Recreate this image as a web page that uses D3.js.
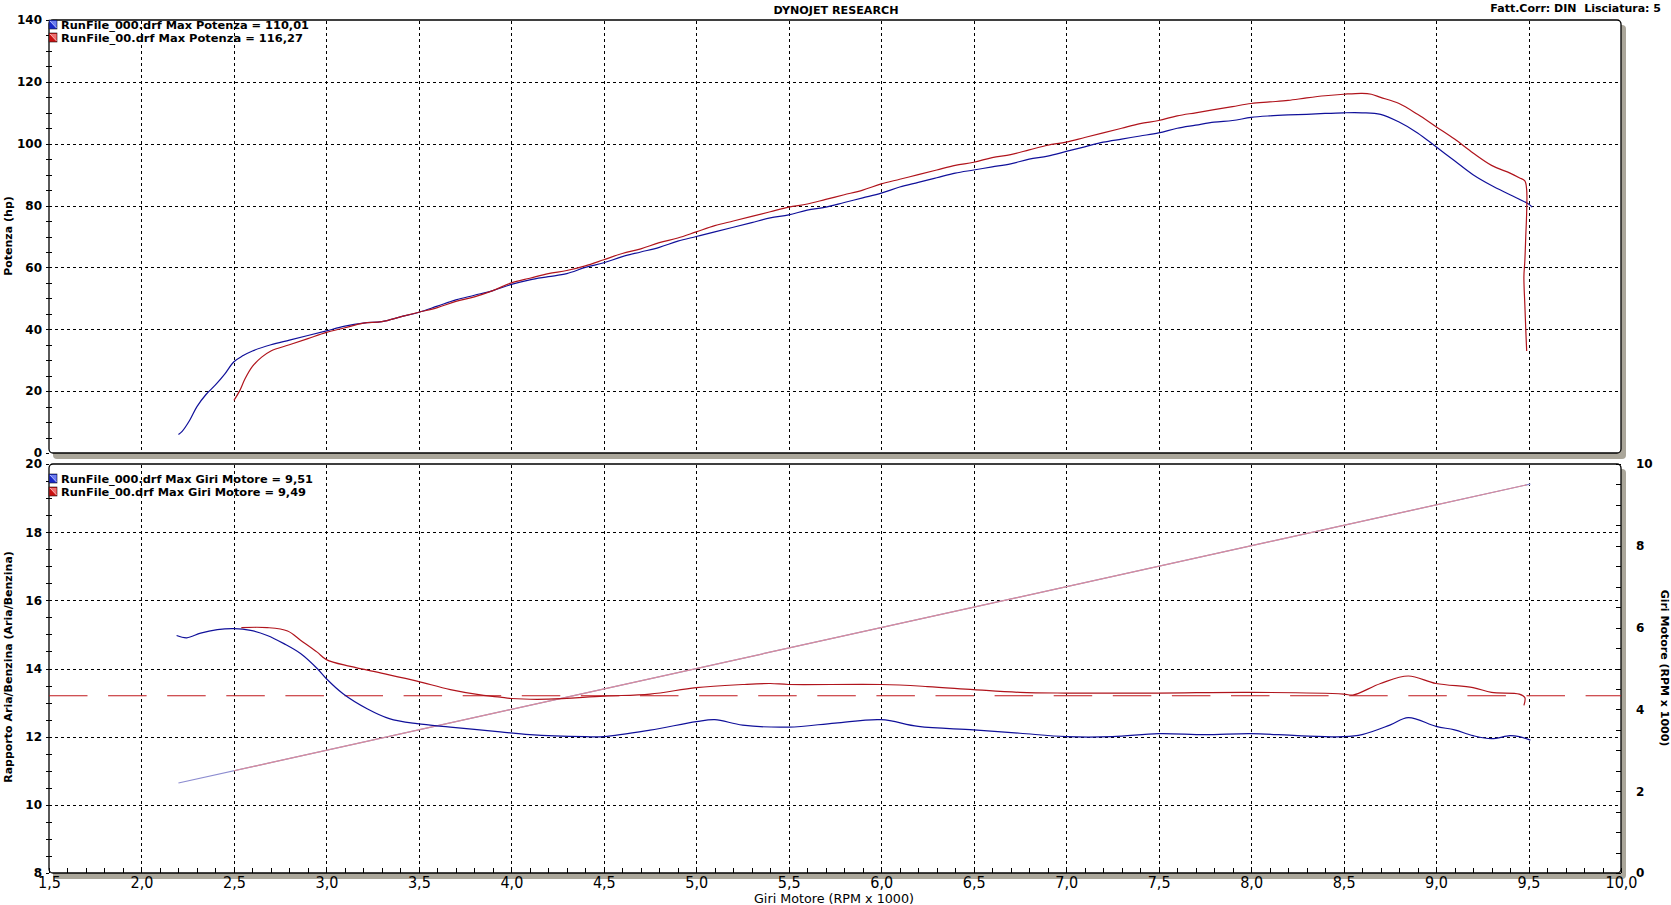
<!DOCTYPE html>
<html><head><meta charset="utf-8">
<script src="https://cdn.jsdelivr.net/npm/d3@7"></script>
<style>body{margin:0;background:#fff;} svg{display:block}</style>
</head><body><svg id="c" width="1671" height="905"></svg>
<script>
// ---------- DATA ----------
const xTicks = [1.5,2.0,2.5,3.0,3.5,4.0,4.5,5.0,5.5,6.0,6.5,7.0,7.5,8.0,8.5,9.0,9.5,10.0];
const powerTicks = [0,20,40,60,80,100,120,140];
const afrTicks = [8,10,12,14,16,18,20];
const rpmAxisTicks = [0,2,4,6,8,10];
const afrTarget = 13.2;

const bluePowerRpm = [2.20,2.22,2.26,2.30,2.35,2.40,2.45,2.50,2.55,2.60,2.70,2.80,2.90,3.00,3.10,3.20,3.30,3.40,3.50,3.60,3.70,3.80,3.90,4.00,4.10,4.20,4.30,4.40,4.50,4.60,4.70,4.80,4.90,5.00,5.10,5.20,5.30,5.40,5.50,5.60,5.70,5.80,5.90,6.00,6.10,6.20,6.30,6.40,6.50,6.60,6.70,6.80,6.90,7.00,7.10,7.20,7.30,7.40,7.50,7.60,7.70,7.80,7.90,8.00,8.10,8.20,8.30,8.40,8.50,8.60,8.70,8.80,8.90,9.00,9.10,9.20,9.30,9.40,9.50,9.52];
const bluePower =    [6.0,7.0,10.5,15,19,22,25.5,29.5,31.5,33,35,36.5,38,39.5,41,42,42.5,44,45.5,47.5,49.5,51,52.5,54.5,56,57,58,60,61.5,63.5,65,66.5,68.5,70,71.5,73,74.5,76,77,78.5,79.5,81,82.5,84,86,87.5,89,90.5,91.5,92.5,93.5,95,96,97.5,99,100.5,101.5,102.5,103.5,105,106,107,107.5,108.5,109,109.3,109.5,109.8,110,110,109.5,107,103.5,99,94.5,90,86.5,83.5,80.5,79.5];

const redPowerRpm = [2.50,2.53,2.56,2.60,2.65,2.70,2.80,2.90,3.00,3.10,3.20,3.30,3.40,3.50,3.60,3.70,3.80,3.90,4.00,4.10,4.20,4.30,4.40,4.50,4.60,4.70,4.80,4.90,5.00,5.10,5.20,5.30,5.40,5.50,5.60,5.70,5.80,5.90,6.00,6.10,6.20,6.30,6.40,6.50,6.60,6.70,6.80,6.90,7.00,7.10,7.20,7.30,7.40,7.50,7.60,7.70,7.80,7.90,8.00,8.10,8.20,8.30,8.40,8.50,8.60,8.65,8.70,8.80,8.90,9.00,9.10,9.20,9.30,9.40,9.45,9.48,9.49,9.49,9.485,9.48,9.475,9.48,9.485,9.49];
const redPower =    [17,20,24,28,31,33,35,37,39,40.5,42,42.5,44,45.5,47,49,50.5,52.5,55,56.5,58,59,60.5,62.5,64.5,66,68,69.5,71.5,73.5,75,76.5,78,79.5,80.5,82,83.5,85,87,88.5,90,91.5,93,94,95.5,96.5,98,99.5,100.5,102,103.5,105,106.5,107.5,109,110,111,112,113,113.5,114,114.8,115.5,116,116.3,116,115,113,109.5,105.5,101.5,97,93,90.5,89,88,85,78,70,62,57,48,40,33];

const blueAfrRpm = [2.19,2.245,2.32,2.41,2.50,2.59,2.68,2.77,2.86,2.95,3.00,3.09,3.22,3.34,3.49,3.67,3.94,4.10,4.40,4.50,4.75,5.00,5.10,5.25,5.50,5.75,6.00,6.20,6.50,6.75,7.00,7.25,7.50,7.75,8.00,8.25,8.50,8.60,8.75,8.85,9.00,9.10,9.20,9.30,9.40,9.45,9.51];
const blueAfr =    [14.97,14.9,15.04,15.14,15.17,15.12,14.97,14.73,14.44,14.0,13.7,13.26,12.82,12.53,12.38,12.28,12.14,12.06,12.0,12.0,12.19,12.44,12.5,12.34,12.28,12.4,12.5,12.3,12.2,12.1,12.0,12.0,12.09,12.06,12.09,12.03,12.0,12.06,12.34,12.56,12.3,12.2,12.03,11.94,12.03,12.0,11.9];

const redAfrRpm = [2.54,2.68,2.79,2.86,2.95,3.00,3.13,3.31,3.49,3.67,3.85,3.94,4.00,4.20,4.50,4.75,5.00,5.25,5.40,5.50,6.00,6.25,6.50,6.75,7.00,7.50,8.00,8.50,8.55,8.70,8.85,9.00,9.20,9.30,9.45,9.48,9.475];
const redAfr =    [15.2,15.2,15.1,14.83,14.48,14.26,14.06,13.85,13.63,13.38,13.21,13.16,13.12,13.1,13.19,13.25,13.44,13.53,13.56,13.53,13.53,13.47,13.38,13.3,13.28,13.28,13.3,13.25,13.22,13.56,13.78,13.56,13.44,13.3,13.25,13.15,12.92];

const blueRpmRange = [2.20, 9.51];
const redRpmRange = [2.50, 9.49];

const legendTop = ["RunFile_000.drf Max Potenza = 110,01", "RunFile_00.drf Max Potenza = 116,27"];
const legendBottom = ["RunFile_000.drf Max Giri Motore = 9,51", "RunFile_00.drf Max Giri Motore = 9,49"];

// ---------- DRAW ----------
const svg = d3.select("#c");
const BLUE = "#10109a", RED = "#b0141c", BLUE_L = "#8c8cd0", RED_L = "#d98c9a", SHADOW = "#aaa69a";
const x = d3.scaleLinear([1.5, 10], [49, 1621]);
const yP = d3.scaleLinear([0, 140], [453, 20]);
const yA = d3.scaleLinear([8, 20], [873, 464]);
const yR = d3.scaleLinear([0, 10], [873, 464]);
const fmt1 = d => d.toFixed(1).replace(".", ",");

function panel(y0, y1) {
  svg.append("rect").attr("x", x(1.5) + 4).attr("y", y0 + 5).attr("width", x(10) - x(1.5) + 1).attr("height", y1 - y0 + 1)
    .attr("rx", 4).attr("fill", SHADOW);
  svg.append("rect").attr("x", x(1.5)).attr("y", y0).attr("width", x(10) - x(1.5)).attr("height", y1 - y0)
    .attr("rx", 4).attr("fill", "#fff").attr("stroke", "#000").attr("stroke-width", 1.3);
}
panel(yP(140), yP(0));
panel(yA(20), yA(8));

const grid = svg.append("g").attr("stroke", "#000").attr("stroke-width", 1).attr("stroke-dasharray", "3,3").attr("shape-rendering", "crispEdges");
const vg = xTicks.filter(t => t > 1.5 && t < 10);
grid.selectAll(".vt").data(vg).join("line").attr("x1", d => Math.round(x(d)) + 0.5).attr("x2", d => Math.round(x(d)) + 0.5).attr("y1", yP(140) + 1).attr("y2", yP(0) - 1);
grid.selectAll(".vb").data(vg).join("line").attr("x1", d => Math.round(x(d)) + 0.5).attr("x2", d => Math.round(x(d)) + 0.5).attr("y1", yA(20) + 1).attr("y2", yA(8) - 1);
grid.selectAll(".ht").data(powerTicks.filter(t => t > 0 && t < 140)).join("line").attr("x1", x(1.5)).attr("x2", x(10)).attr("y1", d => Math.round(yP(d)) + 0.5).attr("y2", d => Math.round(yP(d)) + 0.5);
grid.selectAll(".hb").data(afrTicks.filter(t => t > 8 && t < 20)).join("line").attr("x1", x(1.5)).attr("x2", x(10)).attr("y1", d => Math.round(yA(d)) + 0.5).attr("y2", d => Math.round(yA(d)) + 0.5);

// target AFR line
svg.append("line").attr("x1", x(1.5)).attr("x2", x(10)).attr("y1", yA(afrTarget)).attr("y2", yA(afrTarget))
  .attr("stroke", "#c0181c").attr("stroke-width", 1.2).attr("stroke-dasharray", "38.5,20.6");

// axes helpers
function styleAxis(g, fontFamily, fontSize, weight) {
  g.select(".domain").remove();
  g.selectAll("line").attr("stroke", "#000").attr("shape-rendering", "crispEdges");
  g.selectAll("text").attr("fill", "#000").attr("font-family", fontFamily).attr("font-size", fontSize).attr("font-weight", weight);
}
const minorRange = (a, b, s) => d3.range(Math.round((b - a) / s) + 1).map(i => +(a + i * s).toFixed(3));

// top left axis
svg.append("g").attr("transform", `translate(${x(1.5)},0)`)
  .call(d3.axisLeft(yP).tickValues(powerTicks).tickSize(3).tickPadding(4).tickFormat(d3.format("d")))
  .call(g => styleAxis(g, "DejaVu Sans", 12, "bold"));
svg.append("g").attr("transform", `translate(${x(1.5) + 3},0)`)
  .call(d3.axisLeft(yP).tickValues(minorRange(0, 140, 5).filter(v => v % 20 !== 0)).tickSize(6).tickFormat(""))
  .call(g => styleAxis(g, "DejaVu Sans", 12, "bold"));

// bottom left axis
svg.append("g").attr("transform", `translate(${x(1.5)},0)`)
  .call(d3.axisLeft(yA).tickValues(afrTicks).tickSize(3).tickPadding(4).tickFormat(d3.format("d")))
  .call(g => styleAxis(g, "DejaVu Sans", 12, "bold"));
svg.append("g").attr("transform", `translate(${x(1.5) + 3},0)`)
  .call(d3.axisLeft(yA).tickValues(minorRange(8, 20, 0.5).filter(v => v % 2 !== 0)).tickSize(6).tickFormat(""))
  .call(g => styleAxis(g, "DejaVu Sans", 12, "bold"));

// right axis
svg.append("g").attr("transform", `translate(${x(10)},0)`)
  .call(d3.axisRight(yR).tickValues(minorRange(0, 10, 0.5)).tickSizeInner(-5).tickSizeOuter(0).tickPadding(15)
    .tickFormat(d => rpmAxisTicks.includes(d) ? d3.format("d")(d) : ""))
  .call(g => styleAxis(g, "DejaVu Sans", 12, "bold"));

// bottom x axis
svg.append("g").attr("transform", `translate(0,${yA(8)})`)
  .call(d3.axisBottom(x).tickValues(xTicks).tickSizeInner(-5).tickSizeOuter(0).tickPadding(4).tickFormat(fmt1))
  .call(g => styleAxis(g, "'Liberation Sans Narrow','DejaVu Sans Condensed',sans-serif", 16, "normal"));
svg.append("g").attr("transform", `translate(0,${yA(8)})`)
  .call(d3.axisBottom(x).tickValues(minorRange(1.5, 10, 0.1)).tickSizeInner(-5).tickSizeOuter(0).tickFormat(""))
  .call(g => styleAxis(g, "sans-serif", 10, "normal"));

// data lines
const lineP = d3.line().x(d => x(d[0])).y(d => yP(d[1])).curve(d3.curveCatmullRom.alpha(0.5));
const lineA = d3.line().x(d => x(d[0])).y(d => yA(d[1])).curve(d3.curveCatmullRom.alpha(0.5));
const lineR = d3.line().x(d => x(d[0])).y(d => yR(d[1]));
const zip = (a, b) => a.map((v, i) => [v, b[i]]);

svg.append("path").attr("d", lineR(blueRpmRange.map(v => [v, v]))).attr("fill", "none").attr("stroke", BLUE_L).attr("stroke-width", 1.2);
svg.append("path").attr("d", lineR(redRpmRange.map(v => [v, v]))).attr("fill", "none").attr("stroke", RED_L).attr("stroke-width", 1.2);

svg.append("path").attr("d", lineP(zip(bluePowerRpm, bluePower))).attr("fill", "none").attr("stroke", BLUE).attr("stroke-width", 1.2);
svg.append("path").attr("d", lineP(zip(redPowerRpm, redPower))).attr("fill", "none").attr("stroke", RED).attr("stroke-width", 1.2);
svg.append("path").attr("d", lineA(zip(blueAfrRpm, blueAfr))).attr("fill", "none").attr("stroke", BLUE).attr("stroke-width", 1.2);
svg.append("path").attr("d", lineA(zip(redAfrRpm, redAfr))).attr("fill", "none").attr("stroke", RED).attr("stroke-width", 1.2);

// legends
function legend(items, y0, widths) {
  items.forEach((t, i) => {
    const yy = y0 + i * 13;
    const c = i === 0 ? ["#1828c8", "#6c7cf0", "#d0d8ff"] : ["#c81010", "#f07070", "#ffd0d0"];
    const g = svg.append("g");
    g.append("rect").attr("x", 49).attr("y", yy).attr("width", 8).attr("height", 9).attr("fill", c[0]).attr("stroke", "#202020").attr("stroke-width", 0.6);
    g.append("path").attr("d", `M50,${yy + 1}L56.5,${yy + 1}L56.5,${yy + 8}Z`).attr("fill", c[1]);
    g.append("line").attr("x1", 50).attr("y1", yy + 1).attr("x2", 56.5).attr("y2", yy + 8).attr("stroke", c[2]).attr("stroke-width", 0.8);
    g.append("text").attr("x", 61).attr("y", yy + 8.5).attr("font-family", "DejaVu Sans").attr("font-weight", "bold")
      .attr("font-size", 11).attr("textLength", widths[i]).attr("lengthAdjust", "spacingAndGlyphs").text(t);
  });
}
legend(legendTop, 20, [248, 242]);
legend(legendBottom, 474, [252, 245]);

// titles
svg.append("text").attr("x", 836).attr("y", 14).attr("text-anchor", "middle").attr("font-family", "DejaVu Sans").attr("font-weight", "bold")
  .attr("font-size", 11).attr("textLength", 125).attr("lengthAdjust", "spacingAndGlyphs").text("DYNOJET RESEARCH");
svg.append("text").attr("x", 1661).attr("y", 12).attr("text-anchor", "end").attr("font-family", "DejaVu Sans").attr("font-weight", "bold")
  .attr("font-size", 11).attr("xml:space", "preserve").text("Fatt.Corr: DIN  Lisciatura: 5");

svg.append("text").attr("transform", "translate(12,236) rotate(-90)").attr("text-anchor", "middle").attr("font-family", "DejaVu Sans").attr("font-weight", "bold")
  .attr("font-size", 11).text("Potenza (hp)");
svg.append("text").attr("transform", "translate(12,667) rotate(-90)").attr("text-anchor", "middle").attr("font-family", "DejaVu Sans").attr("font-weight", "bold")
  .attr("font-size", 11).text("Rapporto Aria/Benzina (Aria/Benzina)");
svg.append("text").attr("transform", "translate(1661,668) rotate(90)").attr("text-anchor", "middle").attr("font-family", "DejaVu Sans").attr("font-weight", "bold")
  .attr("font-size", 11).text("Giri Motore (RPM x 1000)");
svg.append("text").attr("x", 834).attr("y", 903).attr("text-anchor", "middle").attr("font-family", "'Liberation Sans Narrow','DejaVu Sans Condensed',sans-serif")
  .attr("font-size", 13).attr("textLength", 160).attr("lengthAdjust", "spacingAndGlyphs").text("Giri Motore (RPM x 1000)");
</script></body></html>
